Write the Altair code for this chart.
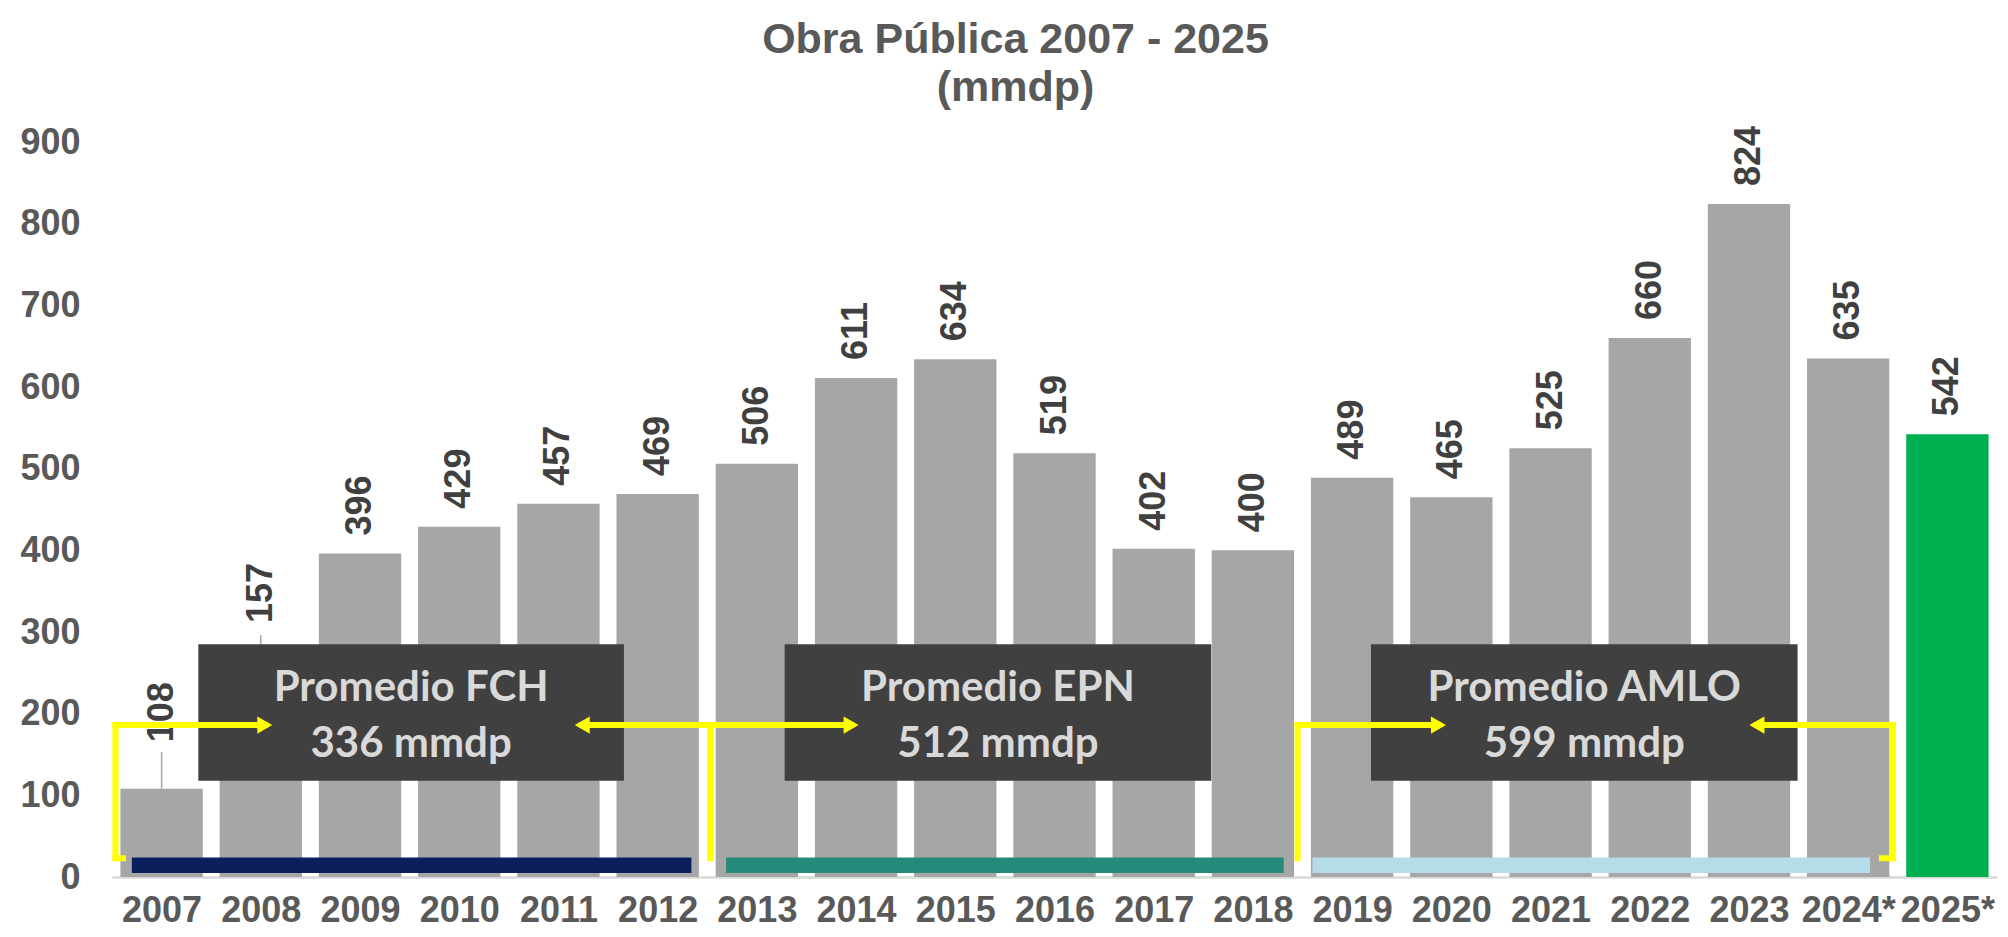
import json
import altair as alt
import pandas as pd

# ---- data ----
years = ["2007", "2008", "2009", "2010", "2011", "2012", "2013", "2014", "2015", "2016",
         "2017", "2018", "2019", "2020", "2021", "2022", "2023", "2024*", "2025*"]
values = [108, 157, 396, 429, 457, 469, 506, 611, 634, 519, 402, 400, 489, 465, 525, 660, 824, 635, 542]
kind = ["Ejercido"] * 18 + ["Proyectado"]

# label anchors (mmdp); two labels are lifted above the annotation and joined by a leader line
label_at = [143, 289] + values[2:]
leader_slot = [0, 1]
leader_from = [108, 157]
leader_to = [153, 296]

periods = ["FCH", "EPN", "AMLO"]
averages = [336, 512, 599]

# annotation geometry: x in year-slot units (0..19), y in mmdp
box_x0 = [0.87, 6.78, 12.69]
box_x1 = [5.16, 11.08, 16.99]
box_y0 = [118, 118, 118]
box_y1 = [285, 285, 285]
line1_y = [216, 216, 216]
line2_y = [147, 147, 147]

strip_x0 = [0.20, 6.19, 12.10]
strip_x1 = [5.84, 11.81, 17.72]
strip_y0 = [5, 5, 5]
strip_y1 = [24, 24, 24]

seg_x1 = [0.035, 0.035, 0.035, 4.74, 6.03, 6.03, 11.95, 11.95, 16.58, 17.95, 17.84]
seg_x2 = [0.035, 1.54, 0.11, 6.03, 6.03, 7.45, 11.95, 13.37, 17.95, 17.95, 17.95]
seg_y1 = [23, 186, 23, 186, 23, 186, 23, 186, 186, 23, 23]
seg_y2 = [186, 186, 23, 186, 186, 186, 186, 186, 186, 186, 23]

head_x = [1.54, 4.74, 7.45, 13.37, 16.58]
head_y = [186, 186, 186, 186, 186]
head_dir = ["right", "left", "right", "right", "left"]

# ---- tables ----
df = pd.DataFrame({"year": years, "value": values, "kind": kind, "label_at": label_at})
df["slot"] = range(len(years))
df_lead = pd.DataFrame({"slot": leader_slot, "y0": leader_from, "y1": leader_to})
df_box = pd.DataFrame({
    "period": periods,
    "x0": box_x0, "x1": box_x1, "y0": box_y0, "y1": box_y1,
    "l1": [f"Promedio {p}" for p in periods],
    "l2": [f"{a} mmdp" for a in averages],
    "ly1": line1_y, "ly2": line2_y,
})
df_box["xc"] = (df_box["x0"] + df_box["x1"]) / 2
df_strip = pd.DataFrame({"period": periods, "x0": strip_x0, "x1": strip_x1, "y0": strip_y0, "y1": strip_y1})
df_seg = pd.DataFrame({"x1": seg_x1, "x2": seg_x2, "y1": seg_y1, "y2": seg_y2})
df_head = pd.DataFrame({"x": head_x, "y": head_y, "dir": head_dir})

FONT = "Liberation Sans"
W, H = 1885, 735
PAD = 0.085  # half of the gap between bars, in slot units

yscale = alt.Scale(domain=[0, 900], nice=False, zero=True)
xq = alt.Scale(domain=[0, len(years)], nice=False, zero=False)
label_expr = "%s[floor(datum.value)]" % json.dumps(years)

XAXIS = alt.Axis(values=[i + 0.5 for i in range(len(years))], labelExpr=label_expr,
                 labelAngle=0, labelFontSize=36, labelFontWeight="bold", labelColor="#595959",
                 labelFont=FONT, ticks=False, labelPadding=16, domainColor="#d9d9d9",
                 domainWidth=2.5, grid=False, labelOverlap=False, labelFlush=False, title=None)
YAXIS = alt.Axis(values=list(range(0, 1000, 100)), labelFontSize=36, labelFontWeight="bold",
                 labelColor="#595959", labelFont=FONT, ticks=False, domain=False, grid=False,
                 labelPadding=32, labelFlush=False, title=None)


def X(field):
    return alt.X(field, type="quantitative", scale=xq, axis=XAXIS, title=None)


def Y(field):
    return alt.Y(field, type="quantitative", scale=yscale, axis=YAXIS, title=None)


base = alt.Chart(df).transform_calculate(
    bx0=f"datum.slot + {PAD}", bx1=f"datum.slot + 1 - {PAD}", bxc="datum.slot + 0.5"
)

bars = base.mark_rect().encode(
    x=X("bx0"),
    x2="bx1:Q",
    y=Y("value"),
    y2=alt.datum(0),
    color=alt.Color("kind:N", scale=alt.Scale(domain=["Ejercido", "Proyectado"], range=["#a6a6a6", "#00b050"]),
                    legend=None),
)

leaders = alt.Chart(df_lead).transform_calculate(lx="datum.slot + 0.5").mark_rule(
    color="#a6a6a6", strokeWidth=1.5).encode(
    x=X("lx"),
    y=Y("y0"),
    y2="y1:Q",
)

labels = base.mark_text(angle=270, align="left", baseline="middle", dx=18, font=FONT,
                        fontWeight="bold", fontSize=36, color="#404040").encode(
    x=X("bxc"),
    y=Y("label_at"),
    text="value:Q",
)

strips = alt.Chart(df_strip).mark_rect().encode(
    x=X("x0"),
    x2="x1:Q",
    y=Y("y0"),
    y2="y1:Q",
    color=alt.Color("period:N", scale=alt.Scale(domain=periods, range=["#0a1f5c", "#268a7a", "#b4dce9"]),
                    legend=None),
)

boxes = alt.Chart(df_box).mark_rect(color="#404040").encode(
    x=X("x0"),
    x2="x1:Q",
    y=Y("y0"),
    y2="y1:Q",
)

txt1 = alt.Chart(df_box).mark_text(font="Lato", fontWeight="bold", fontSize=42, color="#d9d9d9",
                                   align="center", baseline="alphabetic").encode(
    x=X("xc"),
    y=Y("ly1"),
    text="l1:N",
)
txt2 = alt.Chart(df_box).mark_text(font="Lato", fontWeight="bold", fontSize=42, color="#d9d9d9",
                                   align="center", baseline="alphabetic").encode(
    x=X("xc"),
    y=Y("ly2"),
    text="l2:N",
)

segs = alt.Chart(df_seg).mark_rule(color="#ffff00", strokeWidth=6, strokeCap="square").encode(
    x=X("x1"),
    x2="x2:Q",
    y=Y("y1"),
    y2="y2:Q",
)

heads = alt.Chart(df_head).mark_point(filled=True, size=300, opacity=1, color="#ffff00").encode(
    x=X("x"),
    y=Y("y"),
    shape=alt.Shape("dir:N", scale=alt.Scale(domain=["right", "left"], range=["triangle-right", "triangle-left"]),
                    legend=None),
)

chart = alt.layer(bars, leaders, labels, strips, boxes, txt1, txt2, segs, heads).resolve_scale(
    color="independent"
).properties(
    width=W, height=H,
    autosize=alt.AutoSizeParams(type="none"),
    padding={"left": 104, "top": 134, "right": 3, "bottom": 52},
    title=alt.TitleParams(text=["Obra Pública 2007 - 2025", "(mmdp)"], fontSize=43, font=FONT,
                          fontWeight="bold", color="#595959", anchor="middle", frame="group",
                          offset=-29, lineHeight=48, dx=-39, baseline="bottom"),
    background="white",
).configure_view(stroke=None)

chart.save("out.html", embed_options={"renderer": "svg", "actions": False})
